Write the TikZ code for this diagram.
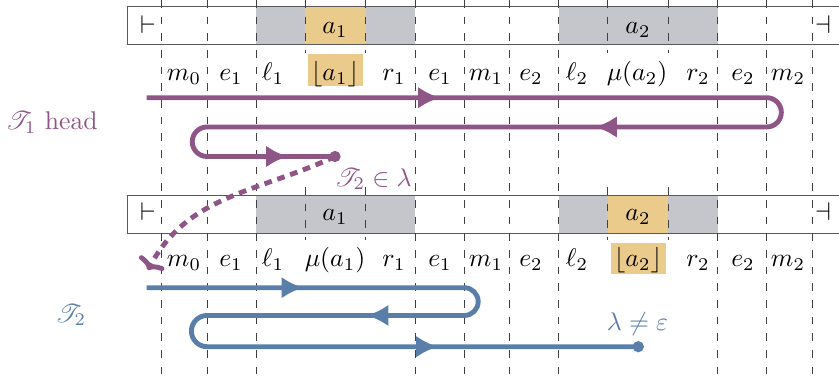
\documentclass[tikz,border=0pt]{standalone}
\usepackage{amsmath,amssymb}
\usepackage{mathrsfs}
\usetikzlibrary{arrows.meta}
\definecolor{tpurple}{RGB}{142,86,135}
\definecolor{tblue}{RGB}{90,126,170}
\definecolor{tgray}{RGB}{197,198,204}
\definecolor{torange}{RGB}{234,203,140}
\begin{document}
\begin{tikzpicture}[x=0.39pt,y=0.39pt,
  vline/.style={draw=black!75,line width=0.4pt,dash pattern=on 3pt off 3.5pt},
  tapeline/.style={draw=black!65,line width=0.6pt},
  lab/.style={anchor=base,inner sep=0pt},
  trk/.style={line width=1.9pt},
  mid/.style={trk,-{Latex[length=8.5pt,width=8.5pt]}},
  note/.style={inner sep=0pt}]
\useasboundingbox (0,0) rectangle (839,376);
% fills
\fill[tgray] (256.3,331.7) rectangle (415,369.3);
\fill[tgray] (558.7,331.7) rectangle (717.7,369.3);
\fill[torange] (305.3,331.7) rectangle (365.7,369.3);
\fill[tgray] (256.3,142.3) rectangle (415,180.3);
\fill[tgray] (558.7,142.3) rectangle (717.7,180.3);
\fill[torange] (607.7,142.3) rectangle (668.3,180.3);
\fill[torange] (307.7,290.3) rectangle (362.7,322);
\fill[torange] (611,101.7) rectangle (665.7,132.7);
% tapes
\draw[tapeline] (839,369.3) -- (127.7,369.3) -- (127.7,331.7) -- (839,331.7);
\draw[tapeline] (839,180.3) -- (127.7,180.3) -- (127.7,142.3) -- (839,142.3);
% dashed lines
\foreach \x in {161.7,207.3,256.3,415.3,464.3,509.3,558.7,717.7,766.7,812.3}
  \draw[vline] (\x,376) -- (\x,0);
\foreach \x in {305.3,365.7,607.7,668.3}{
  \draw[vline] (\x,376) -- (\x,323);
  \draw[vline] (\x,189) -- (\x,136);
}
% tape contents
\node[lab] (lt1) at (148,342.7) {$\vdash$};
\node[lab] (rt1) at (823,342.7) {$\dashv$};
\node[lab] (ta1) at (335,342.7) {$a_1$};
\node[lab] (ta2) at (638,342.7) {$a_2$};
\node[lab] (lt2) at (148,155.3) {$\vdash$};
\node[lab] (rt2) at (823,155.3) {$\dashv$};
\node[lab] (tb1) at (335,155.3) {$a_1$};
\node[lab] (tb2) at (638,155.3) {$a_2$};
% labels row 1
\node[lab] (u1) at (184,295) {$m_0$};
\node[lab] (u2) at (231,295) {$e_1$};
\node[lab] (u3) at (273,295) {$\ell_1$};
\node[lab] (u4) at (335,295) {$\lfloor a_1\rfloor$};
\node[lab] (u5) at (394,295) {$r_1$};
\node[lab] (u6) at (440,295) {$e_1$};
\node[lab] (u7) at (486,295) {$m_1$};
\node[lab] (u8) at (531,295) {$e_2$};
\node[lab] (u9) at (577,295) {$\ell_2$};
\node[lab] (u10) at (637,295) {$\mu(a_2)$};
\node[lab] (u11) at (698,295) {$r_2$};
\node[lab] (u12) at (743,295) {$e_2$};
\node[lab] (u13) at (788,295) {$m_2$};
% labels row 2
\node[lab] (v1) at (184,109.3) {$m_0$};
\node[lab] (v2) at (231,109.3) {$e_1$};
\node[lab] (v3) at (273,109.3) {$\ell_1$};
\node[lab] (v4) at (335,109.3) {$\mu(a_1)$};
\node[lab] (v5) at (394,109.3) {$r_1$};
\node[lab] (v6) at (440,109.3) {$e_1$};
\node[lab] (v7) at (486,109.3) {$m_1$};
\node[lab] (v8) at (531,109.3) {$e_2$};
\node[lab] (v9) at (577,109.3) {$\ell_2$};
\node[lab] (v10) at (638,109.3) {$\lfloor a_2\rfloor$};
\node[lab] (v11) at (698,109.3) {$r_2$};
\node[lab] (v12) at (743,109.3) {$e_2$};
\node[lab] (v13) at (788,109.3) {$m_2$};
% side labels
\node[note,text=tpurple,anchor=base] (h1) at (51.7,246) {$\mathscr{T}_1$ head};
\node[note,text=tblue] (h2) at (70.8,61) {$\mathscr{T}_2$};
\node[note,text=tpurple] (l1) at (373,197) {$\mathscr{T}_2\in\lambda$};
\node[note,text=tblue] (l2) at (637.5,52) {$\lambda\neq\varepsilon$};
% purple run
\coordinate (p0) at (146.7,278.3);
\coordinate (p1) at (766.7,278.3);
\coordinate (p3) at (207,249);
\coordinate (pd) at (335,219.5);
\draw[trk,tpurple] (p0) -- (p1) arc[start angle=90,end angle=-90,radius=14.65]
  -- (p3) arc[start angle=90,end angle=270,radius=14.75] -- (pd);
\draw[mid,tpurple] (420,278.3) -- (440,278.3);
\draw[mid,tpurple] (615,249) -- (595,249);
\draw[mid,tpurple] (268,219.5) -- (288,219.5);
\fill[tpurple] (pd) circle[radius=2.2pt];
% blue run
\coordinate (b0) at (146.7,88.3);
\coordinate (b1) at (464.3,88.3);
\coordinate (b3) at (207,60.5);
\coordinate (bd) at (638.3,29.3);
\draw[trk,tblue] (b0) -- (b1) arc[start angle=90,end angle=-90,radius=13.9]
  -- (b3) arc[start angle=90,end angle=270,radius=15.6] -- (bd);
\draw[mid,tblue] (283,88.3) -- (303.3,88.3);
\draw[mid,tblue] (388,60.5) -- (366.7,60.5);
\draw[mid,tblue] (418,29.3) -- (438,29.3);
\fill[tblue] (bd) circle[radius=2.2pt];
% dashed link
\coordinate (dt) at (148,106);
\draw[tpurple,line width=1.9pt,dash pattern=on 3pt off 2.3pt,-{To[length=4pt,width=11pt]}] (pd) to[out=205,in=62] (dt);
\end{tikzpicture}
\end{document}
